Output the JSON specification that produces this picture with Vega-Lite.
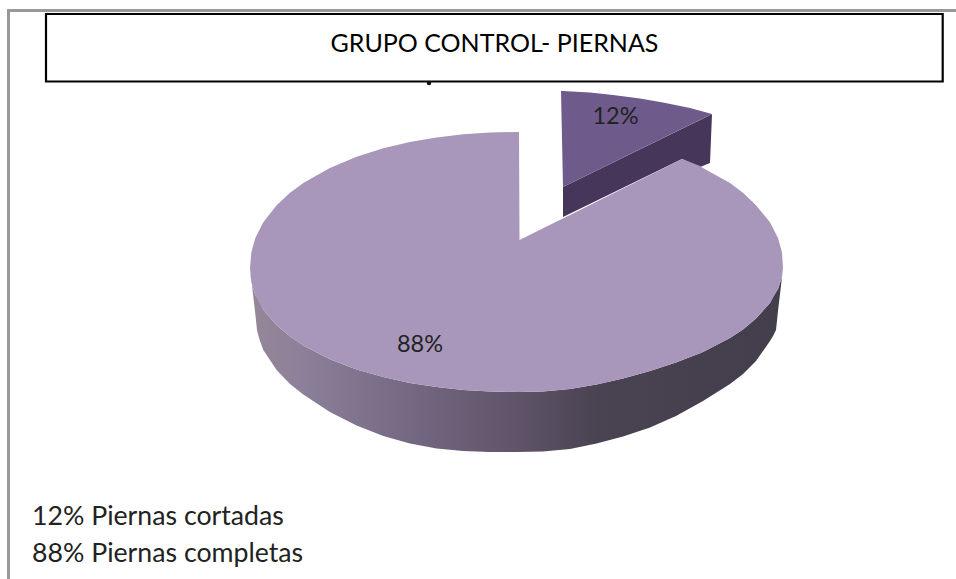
{
"$schema":"https://vega.github.io/schema/vega-lite/v6.json",
"width":956,"height":579,"padding":0,"autosize":{"type":"none"},
"background":"white","view":{"stroke":null},
"datasets":{
"pieSide":[
{"x":250,"low":268,"up":268},{"x":251.3,"low":279.5,"up":282.1},{"x":255.3,"low":314,"up":295.3},{"x":257,"low":330,"up":297},{"x":258.5,"low":336,"up":300},{"x":260,"low":341,"up":303},{"x":263.3,"low":350,"up":309.8},{"x":276.6,"low":370,"up":325.3},{"x":290,"low":384,"up":336.6},{"x":303.3,"low":394.5,"up":345.5},{"x":329.9,"low":412,"up":359.3},{"x":356.6,"low":425.5,"up":369.4},{"x":383.3,"low":436,"up":377.1},{"x":409.9,"low":443.5,"up":383},{"x":436.6,"low":448.5,"up":387},{"x":463.2,"low":451,"up":389.9},{"x":489.9,"low":452,"up":391.5},{"x":516.5,"low":452,"up":392},{"x":543,"low":451.5,"up":391.5},{"x":570,"low":449,"up":389},{"x":596.5,"low":443.5,"up":384.5},{"x":623,"low":436.5,"up":378.5},{"x":650,"low":427.5,"up":371},{"x":676,"low":416,"up":362.5},{"x":703,"low":401,"up":352},{"x":730,"low":384,"up":338},{"x":743,"low":374,"up":329.5},{"x":756,"low":361,"up":318.5},{"x":770,"low":341,"up":303},{"x":773,"low":336,"up":297},{"x":776,"low":330,"up":292},{"x":778,"low":311,"up":289},{"x":782,"low":277,"up":277},{"x":783,"low":268,"up":268}],
"pieTop":[
{"x":250,"low":268,"up":268},{"x":251.3,"low":282.1,"up":252.5},{"x":255.3,"low":295.3,"up":238.1},{"x":263.3,"low":309.8,"up":222.2},{"x":276.6,"low":325.3,"up":205.2},{"x":290,"low":336.6,"up":192.8},{"x":303.3,"low":345.5,"up":183},{"x":329.9,"low":359.3,"up":167.9},{"x":356.6,"low":369.4,"up":156.8},{"x":383.3,"low":377.1,"up":148.3},{"x":409.9,"low":383,"up":142},{"x":436.6,"low":387,"up":137.4},{"x":463.2,"low":389.9,"up":134.3},{"x":489.9,"low":391.5,"up":132.5},{"x":516.5,"low":392,"up":132},{"x":519,"low":392,"up":132},{"x":519.5,"low":392,"up":240},{"x":543,"low":391.5,"up":228.3},{"x":570,"low":389,"up":214.9},{"x":596.5,"low":384.5,"up":201.7},{"x":623,"low":378.5,"up":188.5},{"x":650,"low":371,"up":175},{"x":676,"low":362.5,"up":162.1},{"x":682,"low":360,"up":159},{"x":700,"low":353.5,"up":166},{"x":703,"low":352,"up":167.9},{"x":730,"low":338,"up":183},{"x":743,"low":329.5,"up":192.8},{"x":756,"low":318.5,"up":205.2},{"x":770,"low":303,"up":222.2},{"x":778,"low":289,"up":238.1},{"x":782,"low":277,"up":252.5},{"x":783,"low":268,"up":268}],
"sliceSide":[
{"x":563,"low":217,"up":187},{"x":682,"low":159,"up":128.7},{"x":700,"low":167,"up":119.9},{"x":710,"low":163,"up":115},{"x":712,"low":114,"up":114}],
"sliceTop":[
{"x":561,"low":91,"up":91},{"x":563,"low":187,"up":91},{"x":590,"low":173.8,"up":92.5},{"x":613,"low":162.5,"up":95},{"x":640,"low":149.3,"up":98.5},{"x":663,"low":138,"up":102.5},{"x":690,"low":124.8,"up":108},{"x":712,"low":114,"up":114}],
"frame":[{"x":7,"x2":956,"y":10.5,"y2":10.5},{"x":8.5,"x2":8.5,"y":9,"y2":579}]
},
"encoding":{
"x":{"field":"x","type":"quantitative","scale":{"domain":[0,956],"nice":false,"zero":false},"axis":null},
"y":{"field":"y","type":"quantitative","scale":{"domain":[0,579],"nice":false,"zero":false,"reverse":true},"axis":null}
},
"layer":[
{"data":{"name":"frame"},"mark":{"type":"rule","color":"#999999","strokeWidth":3},"encoding":{"x2":{"field":"x2"},"y2":{"field":"y2"}}},
{"data":{"values":[{"x":46,"x2":942.7,"y":14,"y2":81.5}]},"mark":{"type":"rect","fill":"white","stroke":"#000000","strokeWidth":2.2},"encoding":{"x2":{"field":"x2"},"y2":{"field":"y2"}}},
{"data":{"values":[{"x":429,"y":83}]},"mark":{"type":"point","filled":true,"color":"#111111","size":20,"opacity":1}},
{"data":{"name":"sliceSide"},"mark":{"type":"area","orient":"vertical","color":"#46365a"},"encoding":{"y":{"field":"low","type":"quantitative"},"y2":{"field":"up"}}},
{"data":{"name":"sliceTop"},"mark":{"type":"area","orient":"vertical","color":"#6f5a8c"},"encoding":{"y":{"field":"low","type":"quantitative"},"y2":{"field":"up"}}},
{"data":{"name":"pieSide"},"mark":{"type":"area","orient":"vertical","color":{"gradient":"linear","x1":0,"y1":0,"x2":1,"y2":0,"stops":[{"offset":0,"color":"#958899"},{"offset":0.1,"color":"#8c7f99"},{"offset":0.3,"color":"#756882"},{"offset":0.5,"color":"#5f5469"},{"offset":0.65,"color":"#4a4351"},{"offset":1,"color":"#433e4c"}]}},"encoding":{"y":{"field":"low","type":"quantitative"},"y2":{"field":"up"}}},
{"data":{"name":"pieTop"},"mark":{"type":"area","orient":"vertical","color":"#a897bb"},"encoding":{"y":{"field":"low","type":"quantitative"},"y2":{"field":"up"}}},
{"data":{"values":[{"x":494.5,"y":44,"label":"GRUPO CONTROL- PIERNAS"}]},"mark":{"type":"text","font":"Lato","fontSize":25,"color":"#000000","align":"center","baseline":"middle"},"encoding":{"text":{"field":"label"}}},
{"data":{"values":[{"x":615.5,"y":117,"label":"12%"},{"x":420,"y":345,"label":"88%"}]},"mark":{"type":"text","font":"Lato","fontSize":23.5,"color":"#222222","align":"center","baseline":"middle"},"encoding":{"text":{"field":"label"}}},
{"data":{"values":[{"x":32,"y":517,"label":"12% Piernas cortadas"},{"x":32,"y":554,"label":"88% Piernas completas"}]},"mark":{"type":"text","font":"Lato","fontSize":26.7,"color":"#222222","align":"left","baseline":"middle"},"encoding":{"text":{"field":"label"}}}
]
}
